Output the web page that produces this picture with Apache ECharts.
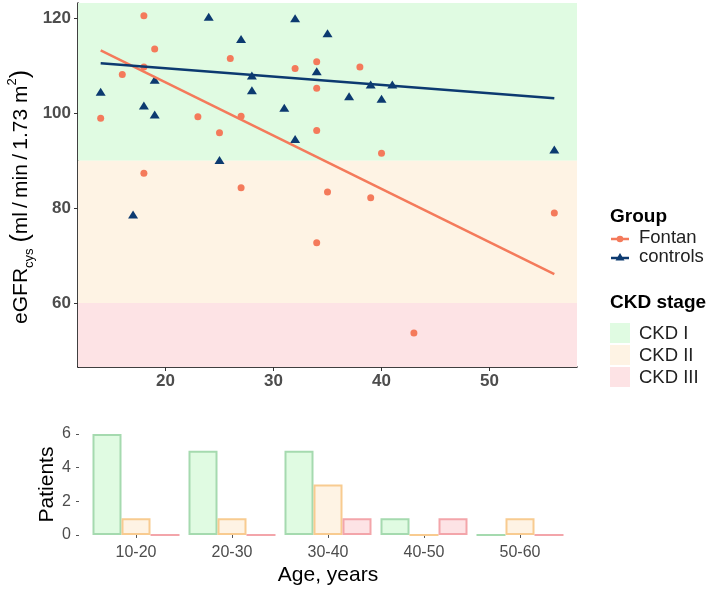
<!DOCTYPE html>
<html>
<head>
<meta charset="utf-8">
<script src="https://cdn.jsdelivr.net/npm/echarts@6/dist/echarts.min.js"></script>
<style>
  html, body { margin: 0; padding: 0; background: #fff; }
  #chart { width: 709px; height: 590px; }
</style>
</head>
<body>
<div id="chart"></div>
<script>
// ---- data ----
// Fontan patients: [age, eGFRcys]
const fontanPoints = [
  [18, 120.6], [19, 113.6], [26, 111.6], [18, 109.8], [16, 108.2], [14, 99.0],
  [23, 99.3], [27, 99.4], [25, 95.9], [18, 87.4], [27, 84.3],
  [32, 109.5], [34, 110.9], [38, 109.8], [34, 105.3], [34, 96.4], [40, 91.6],
  [35, 83.4], [39, 82.2], [34, 72.7], [56, 79.0], [43, 53.7]
];
// controls: [age, eGFRcys]
const controlPoints = [
  [25, 123.4], [24, 120.4], [27, 115.7], [28, 108.0], [28, 104.9], [19, 107.1],
  [14, 104.6], [18, 101.7], [19, 99.8], [31, 101.2], [25, 90.2], [17, 78.7],
  [32, 120.1], [35, 116.9], [34, 108.9], [39, 106.1], [41, 106.1], [37, 103.6],
  [40, 103.1], [32, 94.6], [56, 92.4]
];
// linear fits (end points as drawn)
const fontanFit = [[14, 113.3], [56, 66.1]];
const controlFit = [[14, 110.6], [56, 103.2]];

// CKD stage bands (eGFR limits)
const stageNames = ['CKD I', 'CKD II', 'CKD III'];
const stageLimits = [[90, 200], [60, 90], [0, 60]];

const xTicks = [20, 30, 40, 50];
const yTicks = [60, 80, 100, 120];

// bottom panel: patients per age group and CKD stage
const ageGroups = ['10-20', '20-30', '30-40', '40-50', '50-60'];
const ckd1 = [6, 5, 5, 1, 0];
const ckd2 = [1, 1, 3, 0, 1];
const ckd3 = [0, 0, 1, 1, 0];
const patientTicks = [0, 2, 4, 6];

// ---- styles ----
const fontanColor = '#F47A5B';
const controlColor = '#0C3A70';
const bandFill = ['#E0FBE2', '#FEF3E4', '#FDE3E5'];
const barBorder = ['#A5DAAF', '#F8CB90', '#F3A5AA'];
const tickGrey = '#4D4D4D';
const font = 'Liberation Sans, Arial, sans-serif';

const X_MIN = 11.9, X_MAX = 58.1;
const Y_MIN = 46.5, Y_MAX = 123.3;

var myChart = echarts.init(document.getElementById('chart'));

const bandAreas = stageLimits.map((lim, i) => [
  { yAxis: Math.max(lim[0], Y_MIN), itemStyle: { color: bandFill[i] } },
  { yAxis: Math.min(lim[1], Y_MAX) }
]);

const barSeries = [ckd1, ckd2, ckd3].map((vals, i) => ({
  name: stageNames[i],
  type: 'bar',
  xAxisIndex: 1,
  yAxisIndex: 1,
  data: vals,
  barWidth: 29,
  barGap: '0%',
  itemStyle: { color: bandFill[i], borderColor: barBorder[i], borderWidth: 2 },
  silent: true
}));

// y axis title with subscript / superscript
const yTitle = {
  type: 'text', x: 21, y: 197, rotation: Math.PI / 2,
  style: {
    text: '{n|eGFR}{sub|cys}{n| }{p|(}{n|ml\u2009/\u2009min\u2009/\u20091.73 m}{sup|2}{p|)}',
    align: 'center', verticalAlign: 'middle',
    rich: {
      n: { fontSize: 21, fontFamily: font, fill: '#000', lineHeight: 30, verticalAlign: 'middle' },
      p: { fontSize: 25, fontFamily: font, fill: '#000', lineHeight: 30, verticalAlign: 'middle' },
      sub: { fontSize: 13, fontFamily: font, fill: '#000', lineHeight: 26, verticalAlign: 'bottom' },
      sup: { fontSize: 13, fontFamily: font, fill: '#000', lineHeight: 30, verticalAlign: 'top' }
    }
  }
};

// legend drawn by hand (ggplot style)
const legendX = 610;
const textX = 639;
const legend = [
  { type: 'text', x: legendX, y: 217, style: { text: 'Group', font: 'bold 19px ' + font, fill: '#000', verticalAlign: 'middle' } },
  { type: 'text', x: textX, y: 238, style: { text: 'Fontan', font: '18.5px ' + font, fill: '#222', verticalAlign: 'middle' } },
  { type: 'text', x: textX, y: 257, style: { text: 'controls', font: '18.5px ' + font, fill: '#222', verticalAlign: 'middle' } },
  { type: 'line', shape: { x1: legendX + 1, y1: 239, x2: legendX + 19, y2: 239 }, style: { stroke: fontanColor, lineWidth: 2.5 } },
  { type: 'circle', shape: { cx: legendX + 10, cy: 239, r: 3.3 }, style: { fill: fontanColor } },
  { type: 'line', shape: { x1: legendX + 1, y1: 258, x2: legendX + 19, y2: 258 }, style: { stroke: controlColor, lineWidth: 2.5 } },
  { type: 'polygon', shape: { points: [[legendX + 10, 253], [legendX + 14.5, 260.5], [legendX + 5.5, 260.5]] }, style: { fill: controlColor } },
  { type: 'text', x: legendX, y: 303, style: { text: 'CKD stage', font: 'bold 19px ' + font, fill: '#000', verticalAlign: 'middle' } }
];
stageNames.forEach((name, i) => {
  legend.push({ type: 'rect', shape: { x: legendX, y: 323 + i * 22, width: 20, height: 20 }, style: { fill: bandFill[i] } });
  legend.push({ type: 'text', x: textX, y: 334 + i * 22, style: { text: name, font: '18.5px ' + font, fill: '#222', verticalAlign: 'middle' } });
});

const option = {
  animation: false,
  textStyle: { fontFamily: font },
  grid: [
    { left: 78, right: 132, top: 3, height: 364 },
    { left: 88, right: 141, top: 429, height: 111 }
  ],
  xAxis: [
    {
      type: 'value', gridIndex: 0, min: X_MIN, max: X_MAX,
      axisLine: { lineStyle: { color: '#000', width: 1.5 } },
      axisTick: { show: true, customValues: xTicks, length: 4, lineStyle: { color: '#333' } },
      axisLabel: { customValues: xTicks, color: tickGrey, fontSize: 17, fontWeight: 'bold', margin: 6 },
      splitLine: { show: false }
    },
    {
      type: 'category', gridIndex: 1, data: ageGroups,
      axisLine: { show: false },
      axisTick: { show: true, alignWithLabel: true, length: 3, lineStyle: { color: '#555' } },
      axisLabel: { color: tickGrey, fontSize: 16, margin: 5 },
      name: 'Age, years', nameLocation: 'middle', nameGap: 25,
      nameTextStyle: { fontSize: 21, color: '#000' }
    }
  ],
  yAxis: [
    {
      type: 'value', gridIndex: 0, min: Y_MIN, max: Y_MAX,
      axisLine: { show: true, lineStyle: { color: '#000', width: 1.5 } },
      axisTick: { show: true, customValues: yTicks, length: 4, lineStyle: { color: '#333' } },
      axisLabel: { customValues: yTicks, color: tickGrey, fontSize: 17, fontWeight: 'bold', margin: 7 },
      splitLine: { show: false }
    },
    {
      type: 'value', gridIndex: 1, min: -0.3, max: 6.3, offset: 9,
      axisLine: { show: false },
      axisTick: { show: true, customValues: patientTicks, length: 3, lineStyle: { color: '#555' } },
      axisLabel: { customValues: patientTicks, color: tickGrey, fontSize: 16, margin: 8 },
      splitLine: { show: false },
      name: 'Patients', nameLocation: 'middle', nameGap: 21, nameRotate: 90,
      nameMoveOverlap: false,
      nameTextStyle: { fontSize: 21, color: '#000' }
    }
  ],
  graphic: [yTitle].concat(legend),
  series: [
    {
      // CKD stage background bands
      type: 'line', xAxisIndex: 0, yAxisIndex: 0, data: [], z: 1, silent: true,
      markArea: { silent: true, data: bandAreas }
    },
    {
      name: 'Fontan', type: 'scatter', xAxisIndex: 0, yAxisIndex: 0,
      data: fontanPoints, symbol: 'circle', symbolSize: 7, z: 3,
      itemStyle: { color: fontanColor, opacity: 1 }
    },
    {
      name: 'controls', type: 'scatter', xAxisIndex: 0, yAxisIndex: 0,
      data: controlPoints, symbol: 'triangle', symbolSize: [10, 8], z: 3,
      itemStyle: { color: controlColor, opacity: 1 }
    },
    {
      name: 'Fontan fit', type: 'line', xAxisIndex: 0, yAxisIndex: 0,
      data: fontanFit, symbol: 'none', z: 4, silent: true,
      lineStyle: { color: fontanColor, width: 2.5 }
    },
    {
      name: 'controls fit', type: 'line', xAxisIndex: 0, yAxisIndex: 0,
      data: controlFit, symbol: 'none', z: 4, silent: true,
      lineStyle: { color: controlColor, width: 2.5 }
    }
  ].concat(barSeries)
};

myChart.setOption(option);
window.addEventListener('resize', () => {
  myChart.resize();
});
</script>
</body>
</html>
